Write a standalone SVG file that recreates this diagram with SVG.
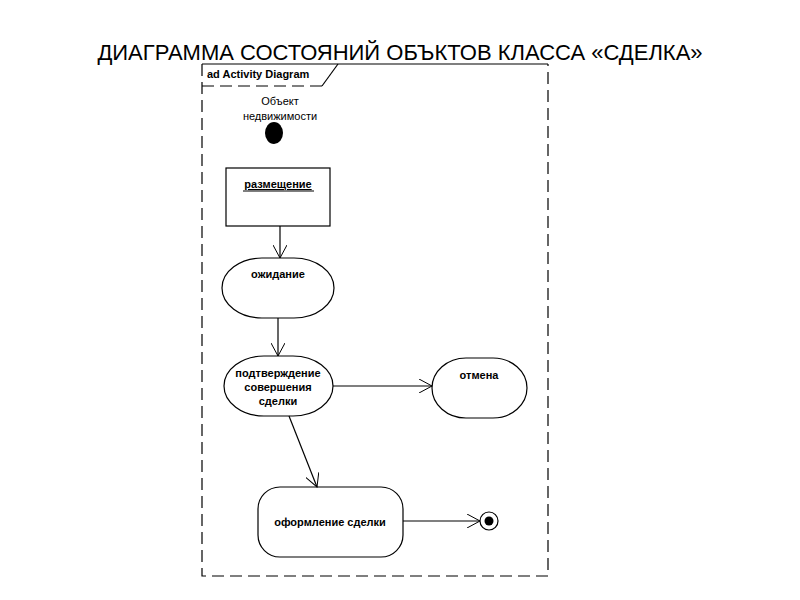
<svg xmlns="http://www.w3.org/2000/svg" width="800" height="600" viewBox="0 0 800 600">
<defs>
<style>
.ln{stroke:#000;stroke-width:1.2;fill:none}
.nd{stroke:#000;stroke-width:1.2;fill:#fff}
.t{font-family:"Liberation Sans",Arial,sans-serif;font-size:11px;font-weight:bold;text-anchor:middle;fill:#000}
.tn{font-family:"Liberation Sans",Arial,sans-serif;font-size:11px;text-anchor:middle;fill:#000}
</style>
<marker id="arr" markerWidth="14" markerHeight="14" refX="13" refY="7" orient="auto" markerUnits="userSpaceOnUse">
<path d="M0,0 L13,7 L0,14" fill="none" stroke="#000" stroke-width="1"/>
</marker>
</defs>
<rect width="800" height="600" fill="#fff"/>
<text x="400" y="60" font-family="'Liberation Sans',Arial,sans-serif" font-size="22" text-anchor="middle" fill="#000">ДИАГРАММА СОСТОЯНИЙ ОБЪКТОВ КЛАССА «СДЕЛКА»</text>
<g id="frame">
<path d="M202,64 L548,64" class="ln"/>
<path d="M202,64 L202,576 L548,576 L548,64" class="ln" stroke-dasharray="12,6"/>
<path d="M202,86 L322,86" class="ln" stroke-dasharray="12,6"/>
<path d="M322,86 L338,64" class="ln"/>
<text x="207" y="78" font-family="'Liberation Sans',Arial,sans-serif" font-size="11" font-weight="bold" fill="#000">ad Activity Diagram</text>
</g>
<g id="initial">
<text x="280" y="105" class="tn">Объект</text>
<text x="280" y="120" class="tn">недвижимости</text>
<ellipse cx="274" cy="133" rx="9" ry="11" fill="#000"/>
</g>
<g id="razmeshchenie">
<rect x="226" y="168" width="104" height="58" class="nd"/>
<text x="278" y="188" class="t" text-decoration="underline">размещение</text>
<line x1="243" y1="191" x2="314" y2="191" stroke="#000" stroke-width="1"/>
</g>
<g id="ozhidanie">
<rect x="222" y="258" width="112" height="60" rx="40" ry="30" class="nd"/>
<text x="278" y="278" class="t">ожидание</text>
</g>
<g id="podtverzhdenie">
<rect x="224" y="356" width="109" height="60" rx="40" ry="30" class="nd"/>
<text x="278" y="377" class="t">подтверждение</text>
<text x="278" y="391" class="t">совершения</text>
<text x="278" y="405" class="t">сделки</text>
</g>
<g id="otmena">
<rect x="432" y="358" width="95" height="60" rx="34" ry="30" class="nd"/>
<text x="479" y="379" class="t">отмена</text>
</g>
<g id="oformlenie">
<rect x="258" y="487" width="145" height="70" rx="22" ry="22" class="nd"/>
<text x="330" y="526" class="t">оформление сделки</text>
</g>
<g id="final">
<circle cx="489" cy="521" r="9" class="nd"/>
<circle cx="489" cy="521" r="4.5" fill="#000"/>
</g>
<g id="connectors">
<line x1="280" y1="226" x2="280" y2="258" class="ln" marker-end="url(#arr)"/>
<line x1="278" y1="318" x2="278" y2="356" class="ln" marker-end="url(#arr)"/>
<line x1="333" y1="386" x2="432" y2="386" class="ln" marker-end="url(#arr)"/>
<line x1="289" y1="416" x2="317" y2="487" class="ln" marker-end="url(#arr)"/>
<line x1="403" y1="521" x2="480" y2="521" class="ln" marker-end="url(#arr)"/>
</g>
</svg>
